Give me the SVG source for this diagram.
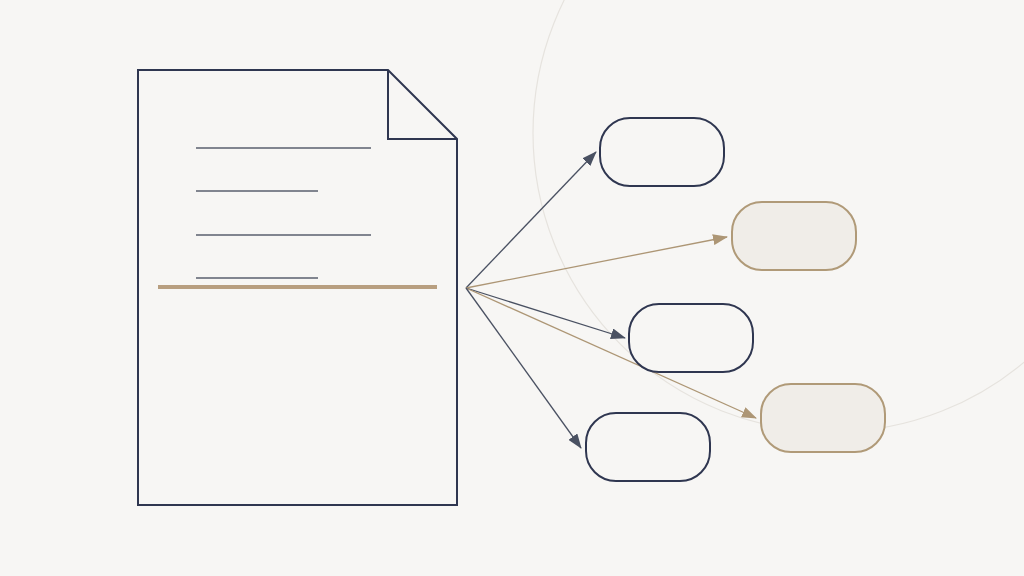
<svg xmlns="http://www.w3.org/2000/svg" width="1024" height="576" viewBox="0 0 1024 576">
<style>
.doc{fill:none;stroke:#2f3650;stroke-width:2;stroke-linejoin:miter}
.tl{stroke:#5a5f6e;stroke-width:1.5}
.nd{fill:#f7f6f4;stroke:#2f3650;stroke-width:2}
.ng{fill:#f0ede8;stroke:#b09a78;stroke-width:2}
.cd{stroke:#4a5162;stroke-width:1.3;fill:none}
.cg{stroke:#ad9675;stroke-width:1.3;fill:none}
</style>
<defs>
<marker id="ad" viewBox="0 0 15 11" refX="14" refY="5.5" markerWidth="15" markerHeight="11" markerUnits="userSpaceOnUse" orient="auto"><path d="M0,0 L15,5.5 L0,11 Z" fill="#4a5162"/></marker>
<marker id="ag" viewBox="0 0 15 11" refX="14" refY="5.5" markerWidth="15" markerHeight="11" markerUnits="userSpaceOnUse" orient="auto"><path d="M0,0 L15,5.5 L0,11 Z" fill="#ad9675"/></marker>
</defs>
<rect width="1024" height="576" fill="#f7f6f4"/>
<circle cx="832" cy="133" r="299" fill="none" stroke="#e6e3de" stroke-width="1.2"/>
<g id="document">
<path class="doc" d="M138,70 L388,70 L457,139 L457,505 L138,505 Z"/>
<path class="doc" d="M388,70 L388,139 L457,139"/>
<line class="tl" x1="196" y1="148" x2="371" y2="148"/>
<line class="tl" x1="196" y1="191" x2="318" y2="191"/>
<line class="tl" x1="196" y1="235" x2="371" y2="235"/>
<line class="tl" x1="196" y1="278" x2="318" y2="278"/>
<line x1="158" y1="287" x2="437" y2="287" stroke="#b89f80" stroke-width="4"/>
</g>
<g id="connectors">
<line class="cd" x1="466" y1="288" x2="596" y2="152" marker-end="url(#ad)"/>
<line class="cg" x1="466" y1="288" x2="727" y2="237" marker-end="url(#ag)"/>
<line class="cd" x1="466" y1="288" x2="625" y2="338" marker-end="url(#ad)"/>
<line class="cg" x1="466" y1="288" x2="756" y2="418" marker-end="url(#ag)"/>
<line class="cd" x1="466" y1="288" x2="581" y2="448" marker-end="url(#ad)"/>
</g>
<g id="node1"><rect class="nd" x="600" y="118" width="124" height="68" rx="30"/></g>
<g id="node2"><rect class="ng" x="732" y="202" width="124" height="68" rx="30"/></g>
<g id="node3"><rect class="nd" x="629" y="304" width="124" height="68" rx="30"/></g>
<g id="node4"><rect class="ng" x="761" y="384" width="124" height="68" rx="30"/></g>
<g id="node5"><rect class="nd" x="586" y="413" width="124" height="68" rx="30"/></g>
</svg>
